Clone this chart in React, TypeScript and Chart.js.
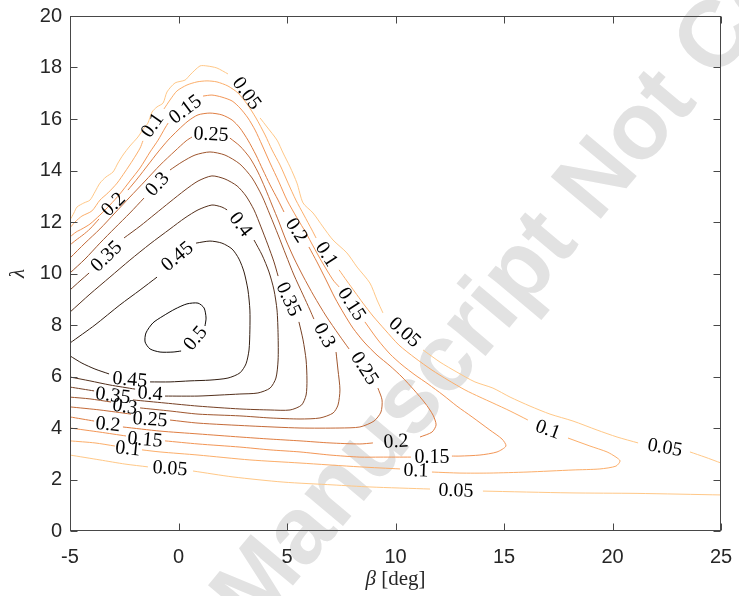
import { useEffect, useRef } from 'react';
import { Chart, registerables } from 'chart.js';

Chart.register(...registerables);

type Pt = [number, number];

// Axis ticks
const xTickValues = [-5, 0, 5, 10, 15, 20, 25];
const yTickValues = [0, 2, 4, 6, 8, 10, 12, 14, 16, 18, 20];

// Contour lines, one array per level; each level is split into pieces
// where the inline labels interrupt it. Points are (beta [deg], lambda).
const c005: Pt[][] = [
  [[-5.0, 12.08], [-4.82, 12.35], [-4.68, 12.58], [-4.36, 12.74], [-4.08, 12.85], [-3.85, 13.17], [-3.62, 13.51], [-3.34, 13.75], [-3.02, 13.94], [-2.79, 14.29], [-2.56, 14.6], [-2.24, 14.95], [-1.87, 15.3], [-1.59, 15.65], [-1.41, 15.84], [-1.22, 16.27], [-0.99, 16.47], [-0.71, 16.62], [-0.53, 17.05], [-0.16, 17.4], [0.3, 17.51], [0.53, 17.71], [0.99, 18.06], [1.31, 18.06], [1.77, 17.98], [2.28, 17.75]],
  [[3.76, 16.04], [4.08, 15.69], [4.54, 15.18], [4.82, 14.68], [5.14, 14.14], [5.46, 13.51], [5.74, 12.74], [6.2, 12.35], [6.66, 11.81], [7.12, 11.3], [7.76, 10.8], [8.23, 10.25], [8.82, 9.63], [9.15, 8.97], [9.42, 8.47]],
  [[11.27, 7.03], [12.05, 6.56], [12.83, 6.17], [13.66, 5.79], [14.49, 5.55], [15.28, 5.2], [16.2, 4.85], [17.12, 4.54], [18.18, 4.27], [19.29, 3.92], [20.21, 3.65], [21.18, 3.42]],
  [[23.57, 3.07], [24.26, 2.87], [25.0, 2.64]],
  [[-5.0, 2.95], [-3.62, 2.76], [-2.47, 2.6], [-1.41, 2.49]],
  [[0.67, 2.33], [2.51, 2.1], [4.82, 1.9], [7.12, 1.79], [8.82, 1.71], [11.59, 1.63]],
  [[14.03, 1.55], [18.04, 1.48], [21.13, 1.46], [25.0, 1.4]],
];

const c010: Pt[][] = [
  [[-5.0, 11.77], [-4.77, 12.0], [-4.45, 12.23], [-3.99, 12.43], [-3.62, 12.85], [-3.25, 13.13], [-2.83, 13.51], [-2.47, 13.94], [-2.1, 14.41], [-1.77, 14.87], [-1.64, 15.15]],
  [[-0.67, 16.39], [-0.39, 16.74], [-0.07, 17.09], [0.39, 17.32], [0.85, 17.44], [1.31, 17.48], [1.77, 17.44], [2.28, 17.28], [2.74, 17.01], [3.16, 16.58], [3.57, 16.04], [3.99, 15.38], [4.31, 14.8], [4.68, 14.21], [5.05, 13.51], [5.41, 12.85], [5.78, 12.27], [6.15, 11.69], [6.34, 11.38]],
  [[7.4, 10.14], [7.76, 9.71], [8.13, 9.28], [8.5, 8.85], [8.96, 8.35], [9.52, 7.81], [10.16, 7.22], [10.9, 6.72], [11.68, 6.25], [12.42, 5.86], [13.2, 5.48], [13.89, 5.2], [14.49, 4.97], [15.28, 4.66], [16.1, 4.31]],
  [[17.95, 3.61], [18.96, 3.3], [19.75, 3.07], [20.16, 2.87], [20.35, 2.72], [20.16, 2.52], [19.42, 2.41], [18.18, 2.37], [16.06, 2.29], [14.35, 2.25], [12.97, 2.25], [11.68, 2.29]],
  [[10.21, 2.41], [8.36, 2.49], [5.6, 2.64], [3.29, 2.76], [0.9, 2.95], [-0.85, 3.07], [-1.68, 3.15]],
  [[-2.93, 3.3], [-3.85, 3.42], [-5.0, 3.5]],
];

const c015: Pt[][] = [
  [[-5.0, 11.42], [-4.72, 11.61], [-4.45, 11.73], [-4.08, 11.92], [-3.62, 12.27], [-3.16, 12.66], [-2.7, 13.09], [-2.24, 13.59], [-1.77, 14.1], [-1.31, 14.72], [-0.94, 15.18], [-0.62, 15.65], [-0.48, 15.84]],
  [[1.13, 16.89], [1.54, 16.93], [2.0, 16.85], [2.47, 16.7], [2.83, 16.43], [3.2, 16.04], [3.53, 15.57], [3.85, 14.99], [4.22, 14.29], [4.63, 13.55], [5.0, 12.85], [5.46, 12.16], [5.88, 11.57], [6.2, 11.07], [6.61, 10.45], [7.12, 9.75], [7.4, 9.48]],
  [[8.59, 8.12], [9.19, 7.42], [9.75, 6.87], [10.3, 6.45], [10.9, 6.06], [11.5, 5.71], [12.19, 5.28], [12.83, 4.85], [13.53, 4.43], [14.35, 3.92], [14.91, 3.57], [15.09, 3.3], [14.68, 3.07], [13.89, 2.95], [12.97, 2.91], [12.6, 2.91]],
  [[10.71, 2.87], [9.29, 2.87], [8.36, 2.87], [6.98, 2.95], [5.6, 3.07], [4.22, 3.15], [2.83, 3.26], [0.9, 3.38], [-0.62, 3.5]],
  [[-2.42, 3.69], [-3.62, 3.84], [-5.0, 4.0]],
];

const c020: Pt[][] = [
  [[-5.0, 11.11], [-4.72, 11.3], [-4.4, 11.5], [-4.08, 11.73], [-3.66, 12.12]],
  [[-2.33, 13.24], [-1.87, 13.71], [-1.41, 14.21], [-0.94, 14.72], [-0.48, 15.18], [-0.02, 15.57], [0.44, 15.92], [0.9, 16.16], [1.45, 16.23], [2.0, 16.16], [2.47, 15.96], [2.83, 15.65], [3.2, 15.18], [3.57, 14.6], [3.89, 14.02], [4.22, 13.44], [4.59, 12.85], [4.86, 12.39]],
  [[6.01, 11.03], [6.38, 10.45], [6.8, 9.75], [7.21, 9.05], [7.63, 8.43], [8.04, 7.88], [8.55, 7.34], [9.15, 6.83], [9.75, 6.41], [10.3, 5.98], [10.85, 5.48], [11.36, 4.97], [11.73, 4.5], [11.87, 4.12], [11.68, 3.84], [11.13, 3.65]],
  [[8.96, 3.42], [8.36, 3.38], [6.98, 3.42], [5.6, 3.5], [4.22, 3.57], [2.83, 3.65], [0.9, 3.77], [-0.85, 3.88], [-2.56, 4.04]],
  [[-3.89, 4.27], [-5.0, 4.43]],
];

const c025: Pt[][] = [
  [[-5.0, 10.6], [-4.31, 11.18], [-3.62, 11.73], [-2.93, 12.35], [-2.24, 12.97], [-1.54, 13.59], [-0.85, 14.21], [-0.16, 14.76], [0.35, 15.15], [0.62, 15.3]],
  [[2.37, 15.26], [2.83, 14.95], [3.29, 14.49], [3.66, 13.94], [3.99, 13.32], [4.31, 12.66], [4.63, 12.0], [4.95, 11.3], [5.32, 10.6], [5.74, 9.9], [6.24, 9.13], [6.8, 8.35], [7.4, 7.61], [7.86, 7.07]],
  [[9.19, 5.55], [9.38, 5.09], [9.33, 4.62], [9.01, 4.27], [8.36, 4.04], [7.44, 4.0], [5.6, 4.0], [3.29, 4.08], [0.9, 4.19], [-0.39, 4.31]],
  [[-2.19, 4.54], [-3.62, 4.7], [-5.0, 4.82]],
];

const c030: Pt[][] = [
  [[-5.0, 10.02], [-4.31, 10.56], [-3.62, 11.18], [-2.93, 11.77], [-2.24, 12.35], [-1.59, 12.93]],
  [[-0.39, 14.02], [0.16, 14.33], [0.76, 14.6], [1.45, 14.72], [2.14, 14.6], [2.83, 14.25], [3.39, 13.71], [3.85, 13.01], [4.22, 12.27], [4.59, 11.5], [4.95, 10.72], [5.32, 9.94], [5.74, 9.17], [6.06, 8.58], [6.24, 8.23]],
  [[7.26, 6.95], [7.35, 6.25], [7.44, 5.48], [7.35, 4.89], [7.12, 4.58], [6.52, 4.39], [5.6, 4.35], [4.22, 4.39], [2.83, 4.47], [0.9, 4.54], [-0.39, 4.66], [-1.77, 4.78]],
  [[-3.11, 5.01], [-4.08, 5.13], [-5.0, 5.2]],
];

const c035: Pt[][] = [
  [[-5.0, 9.36], [-4.54, 9.71], [-4.12, 10.02]],
  [[-2.51, 11.38], [-1.77, 11.84], [-1.08, 12.31], [-0.39, 12.78], [0.3, 13.24], [0.9, 13.59], [1.54, 13.79], [2.14, 13.67], [2.7, 13.4], [3.11, 13.01], [3.48, 12.47], [3.8, 11.81], [4.12, 11.11], [4.4, 10.45], [4.59, 9.9]],
  [[5.55, 8.12], [5.74, 7.42], [5.88, 6.64], [5.92, 5.86], [5.88, 5.28], [5.67, 4.89], [5.14, 4.7], [4.22, 4.7], [2.83, 4.74], [0.9, 4.85], [-0.62, 4.97], [-2.1, 5.09]],
  [[-3.89, 5.44], [-5.0, 5.59]],
];

const c040: Pt[][] = [
  [[-5.0, 8.5], [-4.08, 9.2], [-3.16, 9.86], [-2.24, 10.52], [-1.31, 11.15], [-0.39, 11.73], [0.3, 12.16], [0.9, 12.47], [1.54, 12.66], [2.0, 12.58], [2.24, 12.47]],
  [[3.48, 11.3], [3.85, 10.72], [4.17, 10.06], [4.4, 9.36], [4.54, 8.58], [4.59, 7.61], [4.59, 6.64], [4.49, 5.94], [4.22, 5.55], [3.66, 5.36], [2.83, 5.32], [1.91, 5.28], [0.9, 5.24], [-0.62, 5.24]],
  [[-2.0, 5.51], [-3.16, 5.67], [-4.08, 5.83], [-5.0, 5.98]],
];

const c045: Pt[][] = [
  [[-5.0, 7.3], [-3.85, 8.0], [-2.7, 8.78], [-1.77, 9.36], [-0.99, 9.86]],
  [[0.81, 11.18], [1.45, 11.26], [2.0, 11.18], [2.47, 10.95], [2.79, 10.56], [3.02, 10.06], [3.2, 9.36], [3.29, 8.58], [3.29, 7.81], [3.25, 7.03], [3.11, 6.49], [2.83, 6.14], [2.28, 5.94], [1.45, 5.86], [0.53, 5.83], [-0.39, 5.79], [-1.31, 5.79]],
  [[-3.2, 6.1], [-3.85, 6.29], [-4.45, 6.52], [-5.0, 6.8]],
];

const c050: Pt[][] = [
  [[1.22, 7.96], [1.27, 8.27], [1.18, 8.66], [0.9, 8.85], [0.39, 8.82], [-0.16, 8.62], [-0.71, 8.35], [-1.18, 8.08], [-1.5, 7.69], [-1.54, 7.34], [-1.31, 7.07], [-0.85, 6.95], [-0.25, 6.95], [0.12, 6.99]],
];

// Inline labels: [level, beta, lambda, rotation in degrees]
const contourLabels: [number, number, number, number][] = [
  [0.05, 3.16, 17.01, 54],
  [0.1, -1.22, 15.77, -55],
  [0.15, 0.3, 16.39, -37],
  [0.25, 1.5, 15.42, 3],
  [0.2, -3.02, 12.7, -45],
  [0.3, -0.99, 13.48, -47],
  [0.35, -3.34, 10.68, -44],
  [0.45, -0.07, 10.68, -40],
  [0.4, 2.88, 11.92, 52],
  [0.2, 5.46, 11.69, 57],
  [0.1, 6.84, 10.76, 57],
  [0.15, 8.0, 8.82, 57],
  [0.35, 5.09, 9.01, 65],
  [0.3, 6.75, 7.61, 62],
  [0.25, 8.59, 6.33, 57],
  [0.05, 10.44, 7.73, 42],
  [0.5, 0.76, 7.5, -50],
  [0.45, -2.24, 5.9, 5],
  [0.4, -1.31, 5.36, 4],
  [0.35, -3.02, 5.28, 7],
  [0.3, -2.47, 4.85, 8],
  [0.25, -1.31, 4.35, 4],
  [0.2, -3.25, 4.16, 6],
  [0.15, -1.54, 3.57, 5],
  [0.1, -2.33, 3.22, 6],
  [0.05, -0.39, 2.45, 4],
  [0.2, 10.02, 3.5, -3],
  [0.15, 11.68, 2.87, 0],
  [0.1, 10.94, 2.37, 2],
  [0.05, 12.79, 1.59, 2],
  [0.1, 17.03, 3.96, 20],
  [0.05, 22.42, 3.26, 10],
];

const levelLines: [number, Pt[][]][] = [
  [0.05, c005], [0.1, c010], [0.15, c015], [0.2, c020], [0.25, c025],
  [0.3, c030], [0.35, c035], [0.4, c040], [0.45, c045], [0.5, c050],
];

// Copper-like palette, light for low levels, dark for high levels
const levelPalette: [number, string][] = [
  [0.05, 'rgb(255, 200, 135)'],
  [0.1, 'rgb(252, 174, 106)'],
  [0.15, 'rgb(243, 150, 86)'],
  [0.2, 'rgb(224, 126, 66)'],
  [0.25, 'rgb(196, 106, 56)'],
  [0.3, 'rgb(158, 85, 45)'],
  [0.35, 'rgb(118, 64, 36)'],
  [0.4, 'rgb(84, 48, 28)'],
  [0.45, 'rgb(50, 30, 18)'],
  [0.5, 'rgb(14, 9, 6)'],
];

function levelColor(level: number): string {
  const hit = levelPalette.find(([l]) => Math.abs(l - level) < 1e-9);
  return hit ? hit[1] : '#000';
}

const AXIS_COLOR = '#262626';
const BOX_COLOR = '#474747';
const TICK_LEN = 7;

const decorations = {
  id: 'decorations',
  beforeDraw(chart: any) {
    const { ctx } = chart;
    ctx.save();
    ctx.fillStyle = '#ffffff';
    ctx.fillRect(0, 0, chart.width, chart.height);
    ctx.translate(254, 632);
    ctx.rotate((-50 * Math.PI) / 180);
    ctx.font = 'bold 95px "Liberation Sans", Arial, sans-serif';
    ctx.fillStyle = '#e2e2e2';
    ctx.textBaseline = 'alphabetic';
    ctx.textAlign = 'left';
    ctx.fillText('Manuscript Not Copyedited', 0, 0);
    ctx.restore();
  },
  afterDatasetsDraw(chart: any) {
    const { ctx } = chart;
    const xs = chart.scales.x;
    const ys = chart.scales.y;
    ctx.save();
    ctx.font = '20px "Liberation Serif", "Times New Roman", serif';
    ctx.fillStyle = '#000000';
    ctx.textAlign = 'center';
    ctx.textBaseline = 'middle';
    for (const [level, bx, ly, ang] of contourLabels) {
      ctx.save();
      ctx.translate(xs.getPixelForValue(bx), ys.getPixelForValue(ly));
      ctx.rotate((ang * Math.PI) / 180);
      ctx.fillText(String(level), 0, 1);
      ctx.restore();
    }
    ctx.restore();
  },
  afterDraw(chart: any) {
    const { ctx, chartArea } = chart;
    const xs = chart.scales.x;
    const ys = chart.scales.y;
    const L = Math.round(chartArea.left) + 0.5;
    const R = Math.round(chartArea.right) - 0.5;
    const T = Math.round(chartArea.top) + 0.5;
    const B = Math.round(chartArea.bottom) - 0.5;
    ctx.save();
    ctx.strokeStyle = BOX_COLOR;
    ctx.lineWidth = 1;
    ctx.strokeRect(L, T, R - L, B - T);
    ctx.beginPath();
    for (const v of xTickValues) {
      const p = Math.round(xs.getPixelForValue(v)) + 0.5;
      ctx.moveTo(p, B);
      ctx.lineTo(p, B - TICK_LEN);
      ctx.moveTo(p, T);
      ctx.lineTo(p, T + TICK_LEN);
    }
    for (const v of yTickValues) {
      const p = Math.round(ys.getPixelForValue(v)) + 0.5;
      ctx.moveTo(L, p);
      ctx.lineTo(L + TICK_LEN, p);
      ctx.moveTo(R, p);
      ctx.lineTo(R - TICK_LEN, p);
    }
    ctx.stroke();

    // axis titles
    ctx.fillStyle = AXIS_COLOR;
    ctx.textBaseline = 'middle';
    ctx.save();
    ctx.translate(18, (chartArea.top + chartArea.bottom) / 2);
    ctx.rotate(-Math.PI / 2);
    ctx.textAlign = 'center';
    ctx.font = 'italic 21px "Liberation Serif", serif';
    ctx.fillText('\u03bb', 0, 0);
    ctx.restore();

    const greek = '\u03b2';
    const unit = ' [deg]';
    ctx.font = 'italic 21px "Liberation Serif", serif';
    const wG = ctx.measureText(greek).width;
    ctx.font = '21px "Liberation Serif", serif';
    const wU = ctx.measureText(unit).width;
    const cx = (chartArea.left + chartArea.right) / 2;
    let x0 = cx - (wG + wU) / 2;
    ctx.textAlign = 'left';
    ctx.font = 'italic 21px "Liberation Serif", serif';
    ctx.fillText(greek, x0, 579);
    x0 += wG;
    ctx.font = '21px "Liberation Serif", serif';
    ctx.fillText(unit, x0, 579);
    ctx.restore();
  },
};

export default function App() {
  const canvasRef = useRef<HTMLCanvasElement | null>(null);

  useEffect(() => {
    document.body.style.margin = '0';
    const canvas = canvasRef.current;
    if (!canvas) return;

    const datasets: any[] = [];
    for (const [level, pieces] of levelLines) {
      for (const piece of pieces) {
        datasets.push({
          label: String(level),
          data: piece.map(([x, y]) => ({ x, y })),
          showLine: true,
          borderColor: levelColor(level),
          borderWidth: 1,
          pointRadius: 0,
          pointHoverRadius: 0,
          tension: 0.25,
          fill: false,
        });
      }
    }

    const tickFont = { family: '"Liberation Sans", Arial, sans-serif', size: 20 };

    const chart = new Chart(canvas, {
      type: 'scatter',
      data: { datasets },
      options: {
        responsive: false,
        animation: false,
        devicePixelRatio: 1,
        events: [],
        layout: { padding: { top: 16, right: 18, left: 0, bottom: 0 } },
        plugins: { legend: { display: false }, tooltip: { enabled: false } },
        scales: {
          x: {
            type: 'linear',
            min: -5,
            max: 25,
            grid: { display: false, drawTicks: false },
            border: { display: false },
            ticks: { font: tickFont, color: AXIS_COLOR, padding: 14, maxRotation: 0, callback: (v: any) => String(v) },
            afterBuildTicks: (s: any) => { s.ticks = xTickValues.map((value) => ({ value })); },
            afterFit: (s: any) => { s.height = 65; s.paddingLeft = 0; s.paddingRight = 0; },
          },
          y: {
            type: 'linear',
            min: 0,
            max: 20,
            grid: { display: false, drawTicks: false },
            border: { display: false },
            ticks: { font: tickFont, color: AXIS_COLOR, padding: 8, callback: (v: any) => String(v) },
            afterBuildTicks: (s: any) => { s.ticks = yTickValues.map((value) => ({ value })); },
            afterFit: (s: any) => { s.width = 70; s.paddingTop = 0; s.paddingBottom = 0; },
          },
        },
      },
      plugins: [decorations],
    });

    return () => chart.destroy();
  }, []);

  return (
    <div style={{ width: 739, height: 596 }}>
      <canvas ref={canvasRef} width={739} height={596} style={{ display: 'block', width: 739, height: 596 }} />
    </div>
  );
}
